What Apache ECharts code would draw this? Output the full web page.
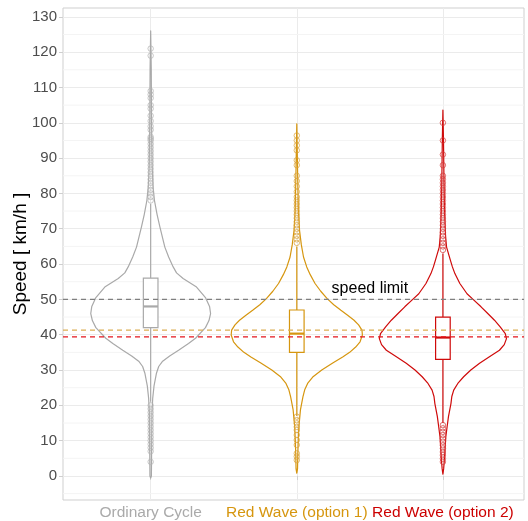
<!DOCTYPE html>
<html>
<head>
<meta charset="utf-8">
<script src="https://cdn.jsdelivr.net/npm/echarts@6/dist/echarts.min.js"></script>
<style>
html, body { margin: 0; padding: 0; background: #fff; }
#chart { width: 528px; height: 521px; }
</style>
</head>
<body>
<div id="chart"></div>
<script>
var categories = ['Ordinary Cycle', 'Red Wave (option 1)', 'Red Wave (option 2)'];
var yTicks = [0, 10, 20, 30, 40, 50, 60, 70, 80, 90, 100, 110, 120, 130];
var yMinorTicks = [-5, 5, 15, 25, 35, 45, 55, 65, 75, 85, 95, 105, 115, 125];

// violin outlines: [speed, half width (in category units)]
var violinOrdinary = [
    [-0.6, 0], [0, 0.005], [10, 0.007], [18, 0.009], [22, 0.014], [25.5, 0.023],
    [29, 0.039], [31, 0.055], [32.5, 0.082], [34, 0.130], [35.6, 0.191], [37.5, 0.259],
    [39, 0.307], [42, 0.375], [44, 0.399], [46, 0.410], [48, 0.403], [50.5, 0.375],
    [53.5, 0.314], [55.9, 0.222], [57.5, 0.177], [59.2, 0.154], [62, 0.123], [64.8, 0.097],
    [70.5, 0.063], [74, 0.044], [78, 0.026], [82, 0.016], [88, 0.010], [100, 0.006],
    [115, 0.004], [126, 0]
];
var violinOption1 = [
    [0.8, 0], [2, 0.005], [6, 0.007], [10, 0.010], [13.9, 0.014], [16, 0.019],
    [18.7, 0.025], [22.4, 0.042], [24.5, 0.055], [26.2, 0.074], [28, 0.109], [30, 0.171],
    [32, 0.246], [33.7, 0.314], [35, 0.362], [36.5, 0.403], [38, 0.433], [39.9, 0.449],
    [41.3, 0.446], [42.8, 0.423], [44.1, 0.392], [45.5, 0.348], [46.9, 0.302], [48.5, 0.253],
    [50.2, 0.208], [52.3, 0.164], [54.5, 0.125], [57, 0.092], [59.2, 0.068], [62, 0.046],
    [65.5, 0.031], [69.5, 0.019], [75, 0.011], [85, 0.006], [99.7, 0]
];
var violinOption2 = [
    [0.5, 0], [2, 0.005], [4.5, 0.010], [8, 0.015], [11.1, 0.020], [14, 0.029],
    [16.8, 0.038], [20.5, 0.055], [22.5, 0.061], [24.3, 0.074], [26.2, 0.102], [28.1, 0.142],
    [30, 0.191], [31.9, 0.251], [33.8, 0.321], [35.6, 0.387], [37.2, 0.420], [38.9, 0.435],
    [40.3, 0.427], [42.2, 0.392], [44.1, 0.353], [46, 0.307], [47.9, 0.261], [49.8, 0.212],
    [51.6, 0.165], [54.5, 0.116], [57.3, 0.082], [59.2, 0.065], [61.1, 0.051], [64.8, 0.025],
    [68, 0.018], [75, 0.011], [85, 0.007], [95, 0.004], [103.6, 0]
];

// box stats: [lower whisker, q1, median, q3, upper whisker]
var boxStats = [
    [21, 42, 48, 56, 77],
    [17, 35, 40.3, 47, 65],
    [15, 33, 39.2, 45, 63]
];

var outliersOrdinary = [4, 7, 8, 9, 10, 11, 12, 13, 14, 15, 16, 17, 18, 19, 20,
    78, 79, 80, 81, 82, 83, 84, 85, 86, 87, 88, 89, 90, 91, 92, 93, 94, 95, 95.5, 96,
    98, 99, 100.5, 102, 104, 105, 107, 108, 109, 119, 121];
var outliersOption1 = [4.5, 5.5, 6.4, 8.8, 10.2, 11.6, 13, 13.9, 14.9, 15.8, 16.8,
    66, 67, 68, 69, 70, 71, 72, 73, 74, 75, 76, 77, 78, 79, 80.5, 82, 83.5, 85, 88,
    89.4, 92.2, 93.6, 95, 96.4];
var outliersOption2 = [4, 4.9, 5.9, 6.8, 7.8, 8.7, 9.7, 10.6, 11.6, 12.5, 13.5, 14.4,
    64, 65, 66, 67, 68, 69, 70, 71, 72, 73, 74, 75, 76, 77, 78, 79, 80, 81, 82, 83, 84,
    85, 88, 91, 95, 100];

var speedLimit = 50;
var meanOption1 = 41.3;
var meanOption2 = 39.4;

var colors = ['#a9a9a9', '#d6960f', '#cf0a0a'];
var outlierColors = ['#b3b3b3', '#daa238', '#d63a3a'];
var labelColors = ['#aaaaaa', '#d6960f', '#cc0000'];

var myChart = echarts.init(document.getElementById('chart'));

function violinSeries(profile, idx) {
    return {
        type: 'custom',
        z: 2,
        silent: true,
        data: [[idx + 1, 0]],
        renderItem: function (params, api) {
            var c = idx + 1;
            var right = profile.map(function (p) { return api.coord([c + p[1], p[0]]); });
            var left = profile.map(function (p) { return api.coord([c - p[1], p[0]]); }).reverse();
            return {
                type: 'polygon',
                shape: { points: right.concat(left) },
                style: { fill: 'rgba(0,0,0,0)', stroke: colors[idx], lineWidth: 1.2, lineJoin: 'round' }
            };
        }
    };
}

function outlierSeries(values, idx) {
    return {
        type: 'scatter',
        z: 4,
        silent: true,
        symbol: 'circle',
        symbolSize: 5.5,
        itemStyle: { color: 'rgba(0,0,0,0)', borderColor: outlierColors[idx], borderWidth: 0.9 },
        data: values.map(function (v) { return [idx + 1, v]; })
    };
}

// full-width horizontal lines (minor grid, reference lines)
function hLineSeries(values, lineColors, width, dash, z) {
    return {
        type: 'custom',
        silent: true,
        z: z,
        data: values.map(function (v) { return [1, v]; }),
        renderItem: function (params, api) {
            var cs = params.coordSys;
            var y = api.coord([1, api.value(1)])[1];
            return {
                type: 'line',
                shape: { x1: cs.x, y1: y, x2: cs.x + cs.width, y2: y },
                style: { stroke: lineColors[params.dataIndex], lineWidth: width, lineDash: dash }
            };
        }
    };
}

var option = {
    animation: false,
    textStyle: { fontFamily: 'Liberation Sans, Arial, sans-serif' },
    grid: {
        left: 63, right: 4, top: 8, bottom: 21,
        outerBoundsMode: 'none',
        show: true, borderColor: '#cfcfcf', borderWidth: 1
    },
    xAxis: {
        type: 'value',
        min: 0.4,
        max: 3.555,
        axisLine: { show: false },
        axisTick: { show: true, customValues: [1, 2, 3], length: 4, lineStyle: { color: '#cfcfcf' } },
        axisLabel: {
            customValues: [1, 2, 3],
            fontSize: 15.5,
            margin: 5,
            formatter: function (v) { return categories[Math.round(v) - 1]; },
            color: function (v) { return labelColors[Math.round(v) - 1]; }
        },
        splitLine: { show: true, lineStyle: { color: '#ebebeb', width: 1 } }
    },
    yAxis: {
        type: 'value',
        min: -6.8,
        max: 132.5,
        name: 'Speed [ km/h ]',
        nameLocation: 'middle',
        nameGap: 33,
        nameMoveOverlap: false,
        nameTextStyle: { fontSize: 19, color: '#000' },
        axisLine: { show: false },
        axisTick: { show: true, customValues: yTicks, length: 4, lineStyle: { color: '#cfcfcf' } },
        axisLabel: { customValues: yTicks, fontSize: 15, color: '#4d4d4d', margin: 6 },
        splitLine: { show: true, lineStyle: { color: '#ebebeb', width: 1 } }
    },
    series: [
        hLineSeries(yMinorTicks, yMinorTicks.map(function () { return '#f4f4f4'; }), 1, null, 1),
        violinSeries(violinOrdinary, 0),
        violinSeries(violinOption1, 1),
        violinSeries(violinOption2, 2),
        {
            type: 'custom',
            z: 3,
            silent: true,
            data: boxStats.map(function (s, i) { return [i + 1].concat(s); }),
            renderItem: function (params, api) {
                var x = api.value(0);
                var col = colors[params.dataIndex];
                var lo = api.coord([x, api.value(1)]);
                var q1 = api.coord([x, api.value(2)]);
                var med = api.coord([x, api.value(3)]);
                var q3 = api.coord([x, api.value(4)]);
                var hi = api.coord([x, api.value(5)]);
                var hw = api.size([0.05, 0])[0];
                return {
                    type: 'group',
                    children: [
                        { type: 'line', shape: { x1: lo[0], y1: lo[1], x2: q1[0], y2: q1[1] }, style: { stroke: col, lineWidth: 1.2 } },
                        { type: 'line', shape: { x1: q3[0], y1: q3[1], x2: hi[0], y2: hi[1] }, style: { stroke: col, lineWidth: 1.2 } },
                        { type: 'rect', shape: { x: q3[0] - hw, y: q3[1], width: 2 * hw, height: q1[1] - q3[1] }, style: { fill: '#fff', stroke: col, lineWidth: 1.2 } },
                        { type: 'line', shape: { x1: med[0] - hw, y1: med[1], x2: med[0] + hw, y2: med[1] }, style: { stroke: col, lineWidth: 2.2 } }
                    ]
                };
            }
        },
        outlierSeries(outliersOrdinary, 0),
        outlierSeries(outliersOption1, 1),
        outlierSeries(outliersOption2, 2),
        hLineSeries([speedLimit, meanOption1, meanOption2], ['#7f7f7f', '#dcae52', '#e3161c'], 1.2, [5, 4], 5),
        {
            type: 'custom',
            z: 6,
            silent: true,
            data: [[2.5, 53]],
            renderItem: function (params, api) {
                var p = api.coord([api.value(0), api.value(1)]);
                return {
                    type: 'text',
                    x: p[0], y: p[1],
                    style: { text: 'speed limit', fill: '#000', fontSize: 16, align: 'center', verticalAlign: 'middle', fontFamily: 'Liberation Sans, Arial, sans-serif' }
                };
            }
        }
    ]
};
myChart.setOption(option);
window.addEventListener('resize', function () {
    myChart.resize();
});
</script>
</body>
</html>
